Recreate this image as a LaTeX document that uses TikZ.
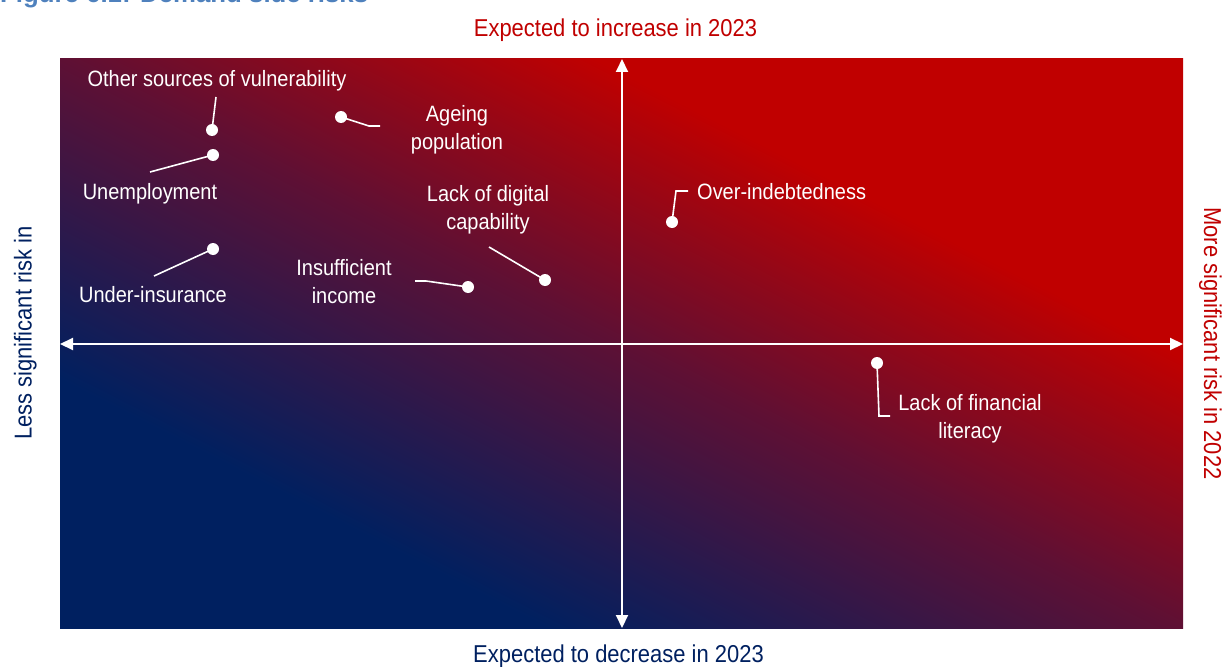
\documentclass[tikz,border=0pt]{standalone}
\usepackage{fontspec}
\setmainfont[FakeStretch=0.9]{Liberation Sans}
\newfontfamily\titlefont{Liberation Sans}
\usetikzlibrary{arrows.meta}

\definecolor{risknavy}{HTML}{002060}
\definecolor{riskmid}{HTML}{5E1034}
\definecolor{riskred}{HTML}{C00000}
\definecolor{titleblue}{HTML}{4F81BD}

\pgfdeclarehorizontalshading{riskfade}{100bp}{color(0bp)=(risknavy); color(31bp)=(risknavy); color(50bp)=(riskmid); color(66bp)=(riskred); color(100bp)=(riskred)}

\tikzset{
  axislabel/.style={inner sep=0pt,font=\fontsize{24.4}{28}\selectfont},
  risklabel/.style={text=white,align=center,inner sep=0pt,font=\fontsize{22.2}{28}\selectfont},
  riskdot/.style={circle,fill=white,inner sep=0pt,minimum size=12pt},
  leader/.style={white,line width=1.6pt},
  axisline/.style={white,line width=2pt,{Triangle[length=13pt,width=12pt]}-{Triangle[length=13pt,width=12pt]}}
}

\begin{document}
\begin{tikzpicture}[x=1pt,y=-1pt]
  \useasboundingbox (0,0) rectangle (1230,666);
  \node[anchor=base west,inner sep=0pt,text=titleblue,font=\titlefont\bfseries\fontsize{25.8}{30}\selectfont] (title) at (0,3) {Figure 6.1: Demand side risks};

  \shade[shading=riskfade,shading angle=63] (60,59) rectangle (1183,628);

  \coordinate (axis-w) at (60,344);
  \coordinate (axis-e) at (1183,344);
  \coordinate (axis-n) at (622,59);
  \coordinate (axis-s) at (622,628);
  \draw[axisline] (axis-w) -- (axis-e);
  \draw[axisline] (axis-n) -- (axis-s);

  \node[axislabel,text=riskred,anchor=base] (up) at (615.5,36.7) {Expected to increase in 2023};
  \node[axislabel,text=risknavy,anchor=base] (down) at (618.5,662) {Expected to decrease in 2023};
  \node[axislabel,text=risknavy,anchor=base,rotate=90] (less) at (31.5,333) {Less significant risk in};
  \node[axislabel,text=riskred,anchor=base,rotate=-90] (more) at (1204,343.5) {More significant risk in 2022};

  % risks
  \node[riskdot] (other-dot) at (212,130) {};
  \node[risklabel,anchor=base] (other) at (217,87) {Other sources of vulnerability};
  \coordinate (other-end) at (216,97);
  \draw[leader] (other-dot.center) -- (other-end);

  \node[riskdot] (ageing-dot) at (341,117) {};
  \node[risklabel,anchor=base] (ageing) at (457,149) {Ageing\\population};
  \coordinate (ageing-bend) at (369,126);
  \coordinate (ageing-end) at (380,126);
  \draw[leader] (ageing-dot.center) -- (ageing-bend) -- (ageing-end);

  \node[riskdot] (unemp-dot) at (213,155) {};
  \node[risklabel,anchor=base] (unemp) at (150,199) {Unemployment};
  \coordinate (unemp-end) at (150,172);
  \draw[leader] (unemp-dot.center) -- (unemp-end);

  \node[riskdot] (underins-dot) at (213,249) {};
  \node[risklabel,anchor=base] (underins) at (153,302.7) {Under-insurance};
  \coordinate (underins-end) at (154,276);
  \draw[leader] (underins-dot.center) -- (underins-end);

  \node[riskdot] (income-dot) at (468,287) {};
  \node[risklabel,anchor=base] (income) at (344,303) {Insufficient\\income};
  \coordinate (income-bend) at (426,281);
  \coordinate (income-end) at (415,281);
  \draw[leader] (income-dot.center) -- (income-bend) -- (income-end);

  \node[riskdot] (digital-dot) at (545,280) {};
  \node[risklabel,anchor=base] (digital) at (488,229) {Lack of digital\\capability};
  \coordinate (digital-end) at (489,247);
  \draw[leader] (digital-dot.center) -- (digital-end);

  \node[riskdot] (debt-dot) at (672,222) {};
  \node[risklabel,anchor=base west] (debt) at (697,199) {Over-indebtedness};
  \coordinate (debt-bend) at (676,191);
  \coordinate (debt-end) at (688,191);
  \draw[leader] (debt-dot.center) -- (debt-bend) -- (debt-end);

  \node[riskdot] (literacy-dot) at (877,363) {};
  \node[risklabel,anchor=base] (literacy) at (970,438) {Lack of financial\\literacy};
  \coordinate (literacy-bend) at (879,416);
  \coordinate (literacy-end) at (890,416);
  \draw[leader] (literacy-dot.center) -- (literacy-bend) -- (literacy-end);
\end{tikzpicture}
\end{document}
